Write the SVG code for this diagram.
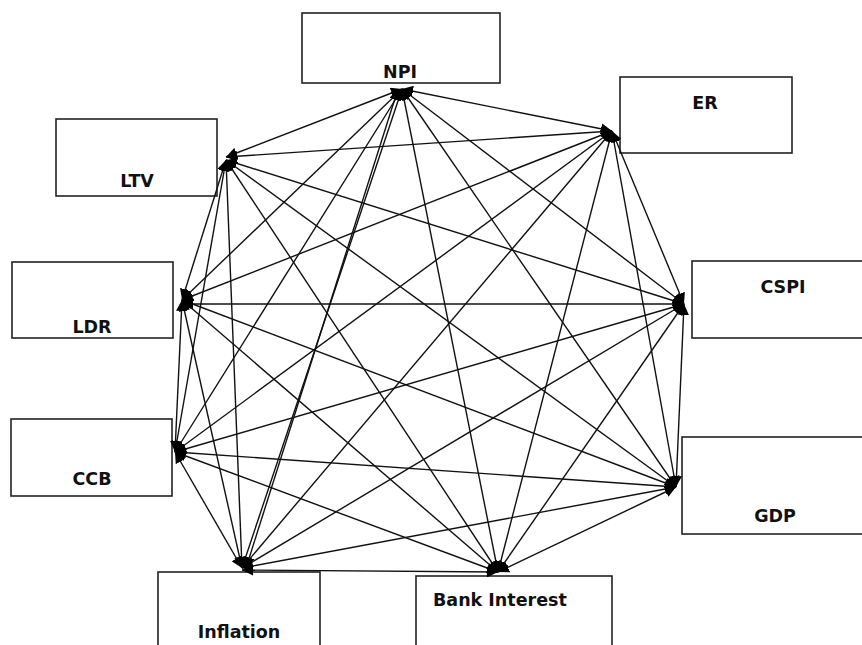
<svg xmlns="http://www.w3.org/2000/svg" width="862" height="645" viewBox="0 0 862 645">
<style>
.box{fill:#fff;stroke:#222;stroke-width:1.6}
.lbl{font-family:"DejaVu Sans",Verdana,sans-serif;font-weight:bold;font-size:17.5px;fill:#111}
.c line{stroke:#111;stroke-width:1.4;marker-end:url(#ah);marker-start:url(#ah)}
</style>
<defs>
<marker id="ah" viewBox="0 0 10 10" refX="10" refY="5" markerWidth="11" markerHeight="11" markerUnits="userSpaceOnUse" orient="auto-start-reverse">
<path d="M0,0 L10,5 L0,10 z" fill="#000"/>
</marker>
</defs>
<rect width="862" height="645" fill="#fff"/>
<g id="NPI"><rect class="box" x="302" y="13" width="198" height="70"/><text class="lbl" x="400" y="78" text-anchor="middle">NPI</text></g>
<g id="ER"><rect class="box" x="620" y="77" width="172" height="76"/><text class="lbl" x="705" y="109" text-anchor="middle">ER</text></g>
<g id="LTV"><rect class="box" x="56" y="119" width="161" height="77"/><text class="lbl" x="137" y="187" text-anchor="middle">LTV</text></g>
<g id="CSPI"><rect class="box" x="692" y="261" width="180" height="77"/><text class="lbl" x="783" y="293" text-anchor="middle">CSPI</text></g>
<g id="LDR"><rect class="box" x="12" y="262" width="161" height="76"/><text class="lbl" x="92" y="333" text-anchor="middle">LDR</text></g>
<g id="CCB"><rect class="box" x="11" y="419" width="161" height="77"/><text class="lbl" x="92" y="485" text-anchor="middle">CCB</text></g>
<g id="GDP"><rect class="box" x="682" y="437" width="190" height="97"/><text class="lbl" x="775" y="522" text-anchor="middle">GDP</text></g>
<g id="Inflation"><rect class="box" x="158" y="572" width="162" height="80"/><text class="lbl" x="239" y="638" text-anchor="middle">Inflation</text></g>
<g id="BankInterest"><rect class="box" x="416" y="576" width="196" height="80"/><text class="lbl" x="433" y="606">Bank Interest</text></g>
<g class="c" id="connectors">
<line x1="402" y1="89" x2="612" y2="131"/>
<line x1="402" y1="89" x2="226" y2="157"/>
<line x1="402" y1="89" x2="684" y2="304"/>
<line x1="402" y1="89" x2="182" y2="300"/>
<line x1="402" y1="89" x2="175" y2="452"/>
<line x1="402" y1="89" x2="676" y2="487"/>
<line x1="402" y1="89" x2="242" y2="568"/>
<line x1="398" y1="89" x2="246" y2="568"/>
<line x1="402" y1="89" x2="498" y2="572"/>
<line x1="612" y1="131" x2="226" y2="157"/>
<line x1="612" y1="131" x2="684" y2="304"/>
<line x1="612" y1="131" x2="182" y2="300"/>
<line x1="612" y1="131" x2="175" y2="452"/>
<line x1="612" y1="131" x2="676" y2="487"/>
<line x1="612" y1="131" x2="242" y2="568"/>
<line x1="612" y1="131" x2="498" y2="572"/>
<line x1="226" y1="160" x2="684" y2="304"/>
<line x1="226" y1="160" x2="182" y2="300"/>
<line x1="226" y1="160" x2="175" y2="452"/>
<line x1="226" y1="160" x2="676" y2="487"/>
<line x1="226" y1="160" x2="242" y2="568"/>
<line x1="226" y1="160" x2="498" y2="572"/>
<line x1="684" y1="304" x2="182" y2="304"/>
<line x1="684" y1="304" x2="175" y2="452"/>
<line x1="684" y1="304" x2="676" y2="487"/>
<line x1="684" y1="304" x2="242" y2="568"/>
<line x1="684" y1="304" x2="498" y2="572"/>
<line x1="182" y1="300" x2="175" y2="452"/>
<line x1="182" y1="300" x2="676" y2="487"/>
<line x1="182" y1="300" x2="242" y2="568"/>
<line x1="182" y1="300" x2="498" y2="572"/>
<line x1="175" y1="452" x2="676" y2="487"/>
<line x1="175" y1="452" x2="242" y2="568"/>
<line x1="175" y1="452" x2="498" y2="572"/>
<line x1="676" y1="487" x2="242" y2="568"/>
<line x1="676" y1="487" x2="498" y2="572"/>
<line x1="498" y1="572" x2="242" y2="570"/>
</g>
</svg>
